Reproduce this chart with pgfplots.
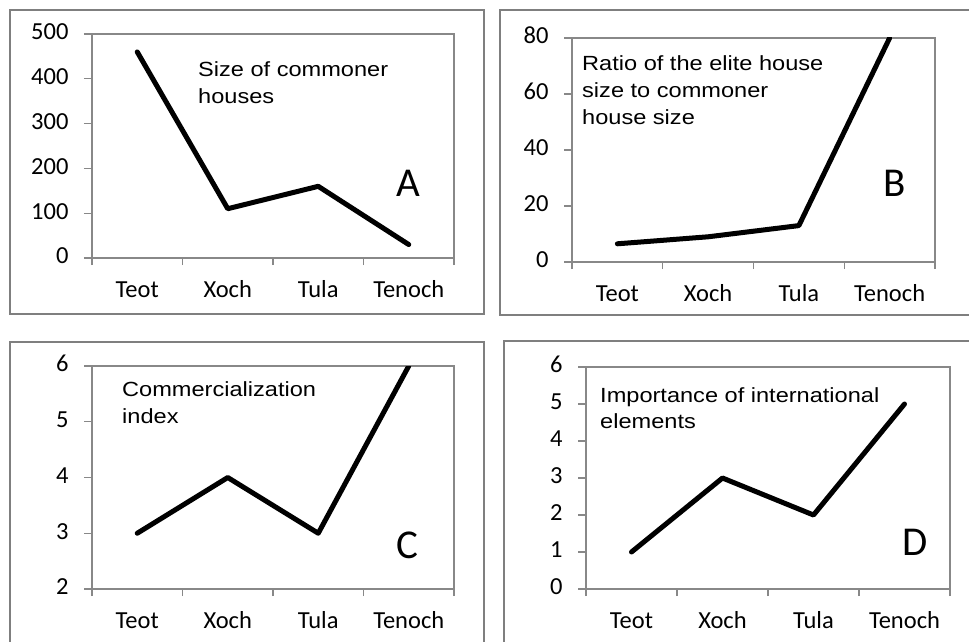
\documentclass[border=0pt]{standalone}
\usepackage{pgfplots}
\pgfplotsset{compat=1.18}
\usepackage{fontspec}
\setmainfont{Carlito}
\newfontfamily\arialf{Liberation Sans}[FakeStretch=1.15]
\definecolor{framegray}{HTML}{7F7F7F}
\definecolor{axgray}{HTML}{888888}
\pgfplotsset{
  panel/.style={
    scale only axis,
    anchor=south west,
    xmin=-0.5, xmax=3.5,
    xtick={0,1,2,3},
    xticklabels={Teot,Xoch,Tula,Tenoch},
    minor xtick={-0.5,0.5,1.5,2.5,3.5},
    major x tick style={draw=none},
    tick align=outside,
    major tick length=8pt,
    minor tick length=7pt,
    xtick pos=bottom, ytick pos=left,
    axis line style={draw=axgray, line width=1.3pt},
    tick style={draw=axgray, line width=1.3pt},
    /pgf/number format/assume math mode=true,
    tick label style={font=\fontsize{24.5}{29}\selectfont},
    typeset ticklabels with strut,
    yticklabel style={xshift=-12pt},
    xticklabel style={yshift=-8pt},
    clip=true,
  },
  dataline/.style={black, line width=5pt, line join=round, line cap=round},
}
\begin{document}
\begin{tikzpicture}[x=1pt,y=1pt]
\useasboundingbox (0,0) rectangle (969,641);
% frames
\draw[framegray, line width=2pt] (10,631) rectangle (484,327);
\draw[framegray, line width=2pt] (1000,631) -- (500,631) -- (500,326) -- (1000,326);
\draw[framegray, line width=2pt] (10,-10) -- (10,299) -- (484,299) -- (484,-10);
\draw[framegray, line width=2pt] (504,-10) -- (504,300) -- (1000,300);

% A
\begin{axis}[panel, at={(92pt,383pt)}, width=362pt, height=224pt,
  ymin=0, ymax=500, ytick={0,100,...,500}]
\addplot[dataline] coordinates {(0,460) (1,110) (2,160) (3,30)};
\end{axis}
% B
\begin{axis}[panel, at={(572pt,379pt)}, width=363pt, height=224pt,
  ymin=0, ymax=80, ytick={0,20,...,80}]
\addplot[dataline] coordinates {(0,6.5) (1,9) (2,13) (3,80)};
\end{axis}
% C
\begin{axis}[panel, at={(92pt,52pt)}, width=362pt, height=223pt,
  ymin=2, ymax=6, ytick={2,3,...,6}]
\addplot[dataline] coordinates {(0,3) (1,4) (2,3) (3,6)};
\end{axis}
% D
\begin{axis}[panel, at={(586pt,52pt)}, width=364pt, height=222pt,
  ymin=0, ymax=6, ytick={0,1,...,6}]
\addplot[dataline] coordinates {(0,1) (1,3) (2,2) (3,5)};
\end{axis}

% annotations
\begin{scope}[every node/.style={inner sep=0pt, anchor=base west, font=\arialf\fontsize{20.5}{25}\selectfont}]
\node at (198,564) {Size of commoner};
\node at (198,537) {houses};
\node at (582,570) {Ratio of the elite house};
\node at (582,543) {size to commoner};
\node at (582,516) {house size};
\node at (122,245) {Commercialization};
\node at (122,218) {index};
\node at (600,239) {Importance of international};
\node at (600,213) {elements};
\end{scope}
\begin{scope}[every node/.style={inner sep=0pt, anchor=base west, font=\fontsize{41}{48}\selectfont}]
\node at (396,444) {A};
\node at (883,444) {B};
\node at (396,83) {C};
\node at (902,86) {D};
\end{scope}
\end{tikzpicture}
\end{document}
